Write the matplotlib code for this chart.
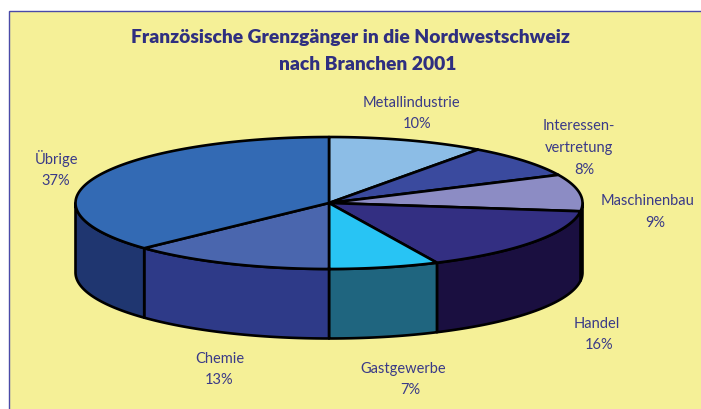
import numpy as np
import matplotlib
matplotlib.use('Agg')
import matplotlib.pyplot as plt
from matplotlib.patches import Polygon, Rectangle

# Daten
branchen = ['Metallindustrie', 'Interessen-\nvertretung', 'Maschinenbau', 'Handel',
            'Gastgewerbe', 'Chemie', 'Übrige']
werte = [10, 8, 9, 16, 7, 13, 37]
farben_oben = ['#8CBDE6', '#3A4A9E', '#8C8CC4', '#332F82', '#28C4F4', '#4A66AE', '#336AB4']
farben_seite = ['#46607A', '#1D254F', '#464662', '#1A0F40', '#1F657F', '#2E3A88', '#1F3670']
titel = ['Französische Grenzgänger in die Nordwestschweiz', 'nach Branchen 2001']

# Position der Beschriftungen (Pixel)
name_pos = [(411, 103), (579, 137), (648, 201), (597, 324), (403, 369), (220, 359), (56, 159)]
wert_pos = [(417, 124), (584, 170), (655, 223), (599, 345), (410, 390), (219, 380), (56, 181)]

# Geometrie der Torte (Pixel)
cx, cy = 329, 204
a, b = 253.5, 66
tiefe = 69.5

GELB = '#F5F097'
TEXT = '#3A3A88'
LW = 1.9


def rand(t):
    return cx + a * np.sin(t), cy - b * np.cos(t)


fig = plt.figure(figsize=(7.01, 4.10), dpi=100, facecolor='white')
ax = fig.add_axes([0, 0, 1, 1])
ax.set_xlim(0, 701)
ax.set_ylim(410, 0)
ax.axis('off')

ax.add_patch(Rectangle((8.5, 11.5), 720, 420, fc=GELB, ec='#4A4AA8', lw=1.0))

grenzen = 2 * np.pi * np.cumsum([0] + werte) / sum(werte)

# Seitenwand, nur der vordere Teil ist sichtbar
for i in range(len(werte)):
    t0 = max(grenzen[i], np.pi / 2)
    t1 = min(grenzen[i + 1], 3 * np.pi / 2)
    if t1 <= t0:
        continue
    t = np.linspace(t0, t1, 80)
    x, y = rand(t)
    pts = np.vstack([np.column_stack([x, y]), np.column_stack([x[::-1], y[::-1] + tiefe])])
    ax.add_patch(Polygon(pts, closed=True, fc=farben_seite[i], ec='black', lw=LW, joinstyle='round'))

# Deckel
for i in range(len(werte)):
    t = np.linspace(grenzen[i], grenzen[i + 1], 120)
    x, y = rand(t)
    pts = np.vstack([[cx, cy], np.column_stack([x, y])])
    ax.add_patch(Polygon(pts, closed=True, fc=farben_oben[i], ec='black', lw=LW, joinstyle='round'))

# Titel
ax.text(350, 38, titel[0], ha='center', va='center', fontsize=13.9, fontweight='heavy',
        family='Lato', color='#2F2F80')
ax.text(368, 65, titel[1], ha='center', va='center', fontsize=13.9, fontweight='heavy',
        family='Lato', color='#2F2F80')

# Beschriftungen
for i in range(len(werte)):
    ax.text(name_pos[i][0], name_pos[i][1], branchen[i], ha='center', va='center', fontsize=10.5,
            family='Lato', color=TEXT, linespacing=1.75)
    ax.text(wert_pos[i][0], wert_pos[i][1], '%d%%' % werte[i], ha='center', va='center', fontsize=10.5,
            family='Lato', color=TEXT)

fig.savefig('out.png', dpi=100)
